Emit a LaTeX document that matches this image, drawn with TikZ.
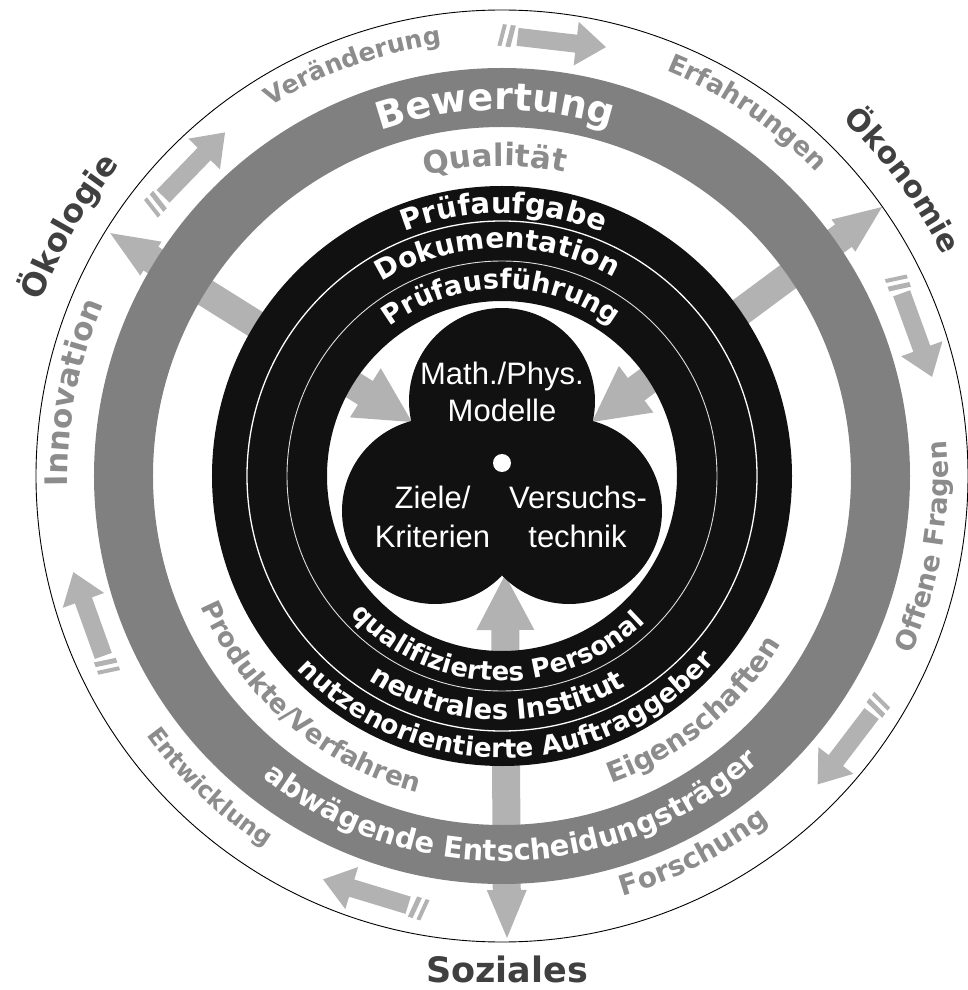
\documentclass[tikz,border=0pt]{standalone}
\usepackage{fontspec}
\setmainfont{DejaVu Sans}
\newfontfamily\arialf{Liberation Sans}
\usetikzlibrary{decorations.text}
\definecolor{ringgray}{HTML}{808080}
\definecolor{arrgray}{HTML}{B2B2B2}
\definecolor{txtgray}{HTML}{8C8C8C}
\definecolor{dkgray}{HTML}{404040}
\definecolor{blk}{HTML}{111111}
\newcommand{\cwtext}[5]{\path[decorate,decoration={text along path,text align=center,text={|\fontsize{#3}{#3}\selectfont\bfseries\color{#4}|#5}}] ({#1+85}:#2pt) arc[start angle={#1+85}, end angle={#1-85}, radius=#2pt];}
\newcommand{\ccwtext}[5]{\path[decorate,decoration={text along path,text align=center,text={|\fontsize{#3}{#3}\selectfont\bfseries\color{#4}|#5}}] ({#1-85}:#2pt) arc[start angle={#1-85}, end angle={#1+85}, radius=#2pt];}
\newcommand{\tanarrow}[2]{%
\begin{scope}[shift={(#1:#2pt)}, rotate={#1-90}]
 \fill[arrgray] (-54,-11) -- (-50,-11) -- (-47,11) -- (-51,11) -- cycle;
 \fill[arrgray] (-46,-11) -- (-41,-11) -- (-38,11) -- (-43,11) -- cycle;
 \fill[arrgray] (-35,-9) -- (24,-9) -- (24,-22) -- (54,0) -- (24,22) -- (24,9) -- (-35,9) -- cycle;
\end{scope}}
\newcommand{\bigarrow}[4]{%
\fill[arrgray, shift={(#1,#2)}, rotate=#3] (0,0) -- (55,29) -- (55,14) -- ({#4-48},14) -- ({#4-48},20) -- (#4,0) -- ({#4-48},-20) -- ({#4-48},-14) -- (55,-14) -- (55,-29) -- cycle;}
\tikzset{inner/.style={anchor=base, text=white, font=\arialf\fontsize{31}{31}\selectfont, inner sep=0pt}}
\begin{document}
\begin{tikzpicture}[x=1pt,y=1pt]
\useasboundingbox (-502,-514) rectangle (465,476);
\coordinate (C) at (0,0);
% outer circle
\draw[black, line width=0.9pt] (C) circle (466pt);
% big double arrows
\bigarrow{-90}{54}{147.96}{356}
\bigarrow{90}{54}{36.55}{361}
\bigarrow{3}{-99}{-89.68}{363}
% rings
\fill[ringgray, even odd rule] (C) circle (408pt) (C) circle (349pt);
\fill[blk, even odd rule] (C) circle (290pt) (C) circle (175pt);
\draw[white, line width=1.3pt] (C) circle (255pt);
\draw[white!75!gray, line width=0.9pt] (C) circle (215pt);
% trefoil
\fill[blk] (0,75) circle (93pt);
\fill[blk] (-67,-35) circle (93pt);
\fill[blk] (67,-35) circle (93pt);
\fill[white] (0,13) circle (9pt);
\node[inner] (m1) at (0,91) {Math./Phys.};
\node[inner] (m2) at (0,54) {Modelle};
\node[inner] (z1) at (-69.5,-32) {Ziele/};
\node[inner] (z2) at (-69.5,-71) {Kriterien};
\node[inner] (v1) at (76,-32) {Versuchs-};
\node[inner] (v2) at (75.5,-71) {technik};
% texts, upper half
\cwtext{110}{436}{25}{txtgray}{Veränderung}
\cwtext{56}{437}{26}{txtgray}{Erfahrungen}
\cwtext{169}{434}{31}{txtgray}{Innovation}
\cwtext{150}{493}{32}{dkgray}{Ökologie}
\cwtext{36.4}{493}{30}{dkgray}{Ökonomie}
\cwtext{91}{366}{38}{white}{Bewertung}
\cwtext{91.3}{310}{31}{txtgray}{Qualität}
\cwtext{89.6}{263}{29}{white}{Prüfaufgabe}
\cwtext{91.2}{228}{28}{white}{Dokumentation}
\cwtext{90.2}{187}{27}{white}{Prüfausführung}
% texts, lower half
\ccwtext{-9.5}{446}{27}{txtgray}{Offene Fragen}
\ccwtext{-63.1}{437}{28}{txtgray}{Forschung}
\ccwtext{226.8}{440}{24}{txtgray}{Entwicklung}
\ccwtext{229.3}{328}{26.5}{txtgray}{Produkte/Verfahren}
\ccwtext{-50.7}{326}{28}{txtgray}{Eigenschaften}
\ccwtext{271.8}{385}{29}{white}{abwägende Entscheidungsträger}
\ccwtext{268.5}{205}{26}{white}{qualifiziertes Personal}
\ccwtext{268.7}{244}{27.5}{white}{neutrales Institut}
\ccwtext{271.2}{282}{26.4}{white}{nutzenorientierte Auftraggeber}
\node[anchor=base, text=dkgray, font=\fontsize{35}{35}\selectfont\bfseries, inner sep=0pt] (soz) at (5,-506) {Soziales};
% small tangential arrows
\tanarrow{83.4}{438}
\tanarrow{135.9}{438}
\tanarrow{20}{438}
\tanarrow{-37.3}{438}
\tanarrow{253.1}{438}
\tanarrow{199.7}{436}
\end{tikzpicture}
\end{document}
